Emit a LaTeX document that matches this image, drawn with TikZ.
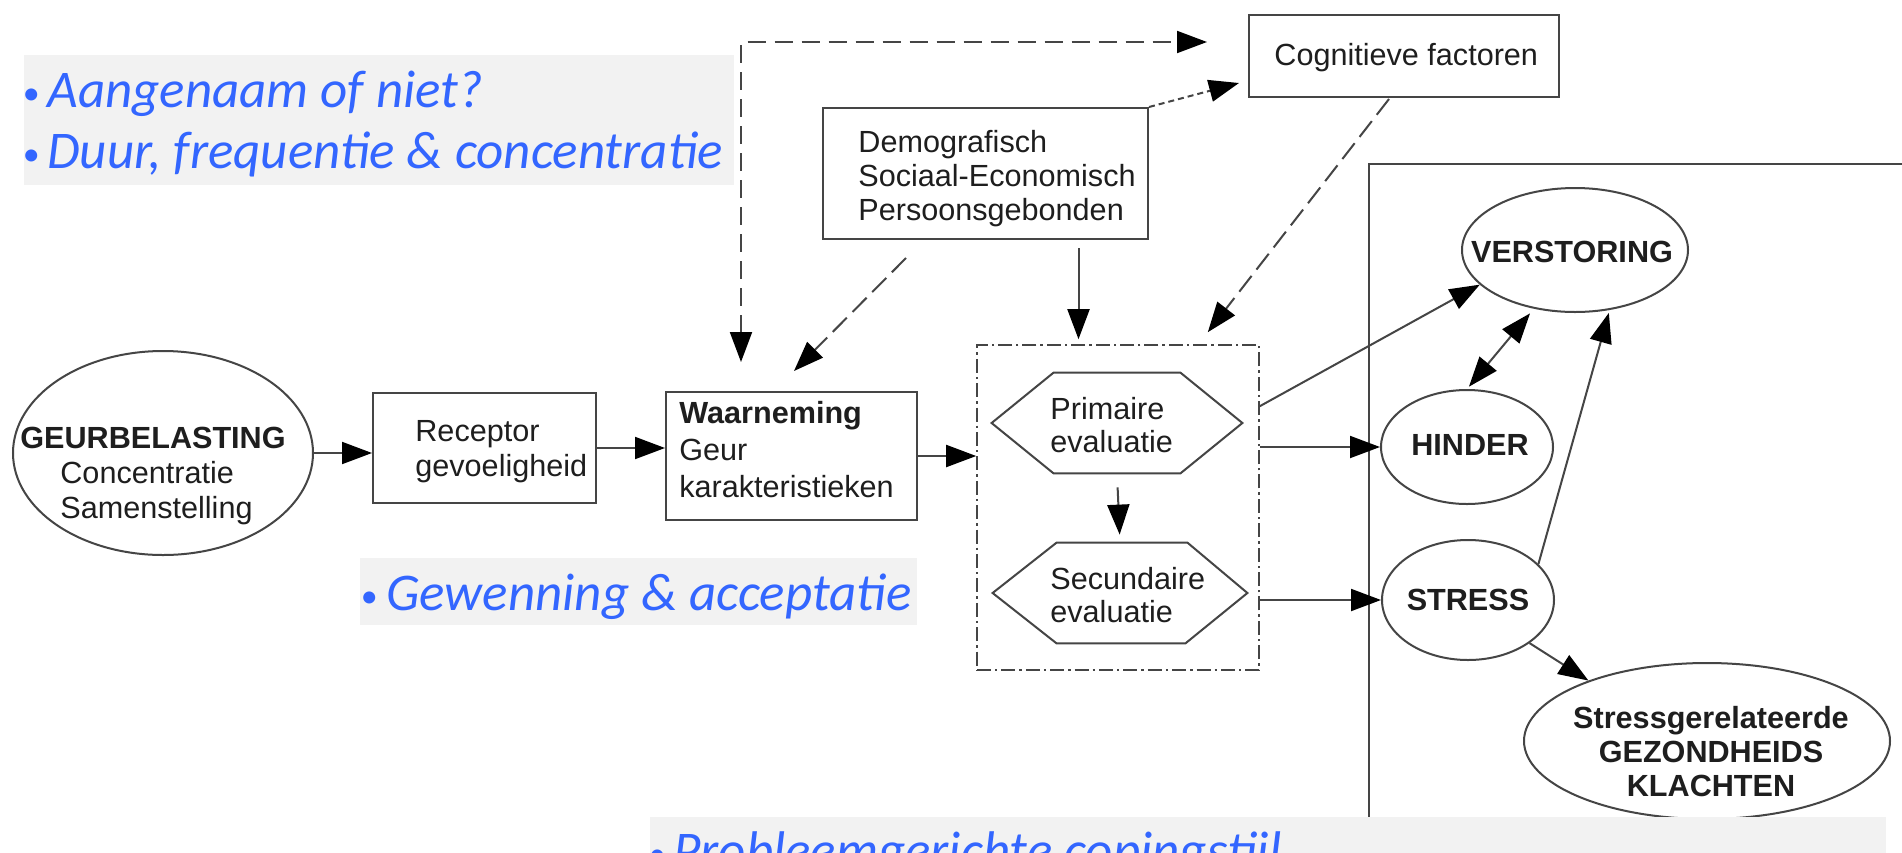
\documentclass[tikz,border=0pt]{standalone}
\usepackage{fontspec}
\setmainfont{Liberation Sans}
\newfontfamily\calib{Carlito}
\usetikzlibrary{arrows.meta,calc,shapes.geometric}
\definecolor{tblue}{HTML}{3366FF}
\definecolor{bargray}{HTML}{F2F2F2}
\definecolor{lin}{HTML}{454545}
\definecolor{txt}{HTML}{1E1E1E}
\newcommand{\blt}[1]{\makebox[0pt][c]{\fontsize{17}{17}\selectfont\upshape\raisebox{1.5pt}{•}}\hspace*{#1}}
\begin{document}
\begin{tikzpicture}[x=0.5pt,y=-0.5pt,
  >={Triangle[length=15pt,width=11pt,color=black]},
  lbl/.style={font=\fontsize{15.3}{17.5}\selectfont, text=txt, inner sep=0pt, align=left},
  clbl/.style={lbl, align=center, font=\fontsize{15.3}{17}\selectfont\bfseries},
  bluetxt/.style={font=\calib\itshape\fontsize{26.5}{30}\selectfont, text=tblue, inner sep=0pt, anchor=base west},
  bar/.style={fill=bargray, draw=none, inner sep=0pt, anchor=north west},
  box/.style={draw=lin, line width=1pt, inner sep=0pt, rectangle},
  dashbox/.style={draw=lin, line width=0.8pt, inner sep=0pt, rectangle, dash pattern=on 7pt off 2pt on 1.2pt off 2pt},
  ell/.style={draw=lin, line width=1pt, inner sep=0pt, ellipse},
  hexbase/.style={draw=none, inner sep=0pt, rectangle},
  con/.style={draw=lin, line width=1pt},
  arr/.style={con, ->},
  dasharr/.style={con, ->, dash pattern=on 10pt off 4pt},
  longdash/.style={con, dash pattern=on 9pt off 4.5pt},
  dotarr/.style={con, ->, dash pattern=on 3pt off 2pt}
]
\useasboundingbox (0,0) rectangle (1902,852);
\clip (0,0) rectangle (1902,852);
\fill[white] (0,0) rectangle (1902,852);

% grey text bars
\node[bar, minimum width=355pt, minimum height=65pt] (bar1) at (24,55) {};
\node[bar, minimum width=278.5pt, minimum height=33.5pt] (bar2) at (360,558) {};
\node[bluetxt] (t1) at (31,107) {\blt{8pt}Aangenaam of niet?};
\node[bluetxt] (t2) at (31,168) {\blt{8pt}Duur, frequentie \& concentratie};
\node[bluetxt] (t3) at (369,610) {\blt{8.5pt}Gewenning \& acceptatie};

% shapes
\node[ell, minimum width=150pt, minimum height=102pt] (geur) at (163,453) {};
\node[box, minimum width=111.5pt, minimum height=55pt] (rec) at (484.5,448) {};
\node[box, minimum width=125.5pt, minimum height=64pt] (waar) at (791.5,456) {};
\node[box, minimum width=162.5pt, minimum height=65.5pt] (demo) at (985.5,173.5) {};
\node[box, minimum width=155pt, minimum height=41pt] (cog) at (1404,56) {};
\node[dashbox, minimum width=141pt, minimum height=162.5pt] (dbx) at (1118,507.5) {};
\node[hexbase, minimum width=125pt, minimum height=50pt] (prim) at (1117,423) {};
\node[hexbase, minimum width=127pt, minimum height=50pt] (sec) at (1120,593) {};
\node[box, anchor=north west, minimum width=400pt, minimum height=400pt] (outer) at (1368,163) {};
\node[ell, minimum width=113pt, minimum height=62pt] (verst) at (1575,250) {};
\node[ell, minimum width=86pt, minimum height=57pt] (hind) at (1467,447) {};
\node[ell, minimum width=86pt, minimum height=60pt] (stress) at (1468,600) {};
\node[ell, minimum width=183pt, minimum height=78pt] (gez) at (1707,741) {};

% hexagons
\draw[con] (prim.west) -- ($(prim.north west)+(62,0)$) -- ($(prim.north east)+(-62,0)$) -- (prim.east) -- ($(prim.south east)+(-62,0)$) -- ($(prim.south west)+(62,0)$) -- cycle;
\draw[con] (sec.west) -- ($(sec.north west)+(64,0)$) -- ($(sec.north east)+(-60,0)$) -- (sec.east) -- ($(sec.south east)+(-62,0)$) -- ($(sec.south west)+(64,0)$) -- cycle;

% labels
\node[lbl, anchor=west] (geurt) at (20,476) {\textbf{GEURBELASTING}\\\hspace*{20pt}Concentratie\\\hspace*{20pt}Samenstelling};
\node[lbl, anchor=west] (rect) at (415,452) {Receptor\\gevoeligheid};
\node[lbl, anchor=west, font=\fontsize{15.3}{18.5}\selectfont] (waart) at (679,450) {\textbf{Waarneming}\\Geur\\karakteristieken};
\node[lbl, anchor=west, font=\fontsize{15.3}{17}\selectfont] (demot) at (858,179) {Demografisch\\Sociaal-Economisch\\Persoonsgebonden};
\node[lbl, anchor=west] (cogt) at (1274,58) {Cognitieve factoren};
\node[lbl, anchor=west, font=\fontsize{15.3}{16.5}\selectfont] (primt) at (1050,425) {Primaire\\evaluatie};
\node[lbl, anchor=west, font=\fontsize{15.3}{16.5}\selectfont] (sect) at (1050,595) {Secundaire\\evaluatie};
\node[clbl] (verstt) at (1572,252) {VERSTORING};
\node[clbl] (hindt) at (1470,445) {HINDER};
\node[clbl] (stresst) at (1468,600) {STRESS};
\node[clbl] (gezt) at (1711,752) {Stressgerelateerde\\GEZONDHEIDS\\KLACHTEN};

% connectors
\draw[arr] (geur.east) -- (geur.east -| rec.west);
\draw[arr] (rec.east) -- (rec.east -| waar.west);
\draw[arr] (waar.east) -- (waar.east -| dbx.west);
\draw[arr] (dbx.east |- hind.west) -- (hind.west);
\draw[arr] (dbx.east |- stress.west) -- (stress.west);
\draw[arr] ($(dbx.north east)+(0,62)$) -- (verst.200);
\draw[con, <->, shorten <=1.5pt, shorten >=3pt] (hind.north) -- (verst.235);
\draw[arr, shorten >=1.5pt] (stress.27) -- (verst.300);
\draw[arr] (stress.-35) -- (gez.153);
\draw[arr, shorten <=7pt, shorten >=4pt] (prim.south) -- (sec.north);
\coordinate (dsb) at ([xshift=46.5pt]demo.south);
\draw[arr, shorten <=4pt, shorten >=2.5pt] (dsb) -- (dsb |- dbx.north);
\draw[dasharr] ($(demo.south west)+(84,18)$) -- ($(waar.north)+(2.5,-20)$);
\draw[dotarr] (demo.north east) -- ($(cog.south west)+(-9,-15)$);
\draw[dasharr] ($(cog.south)+(-15,1)$) -- ($(dbx.north east)+(-52,-12)$);
\draw[longdash, <->] ($(waar.north west)+(76,-29)$) |- ($(cog.west)+(-41,-14)$);

% bottom bar
\node[bar, minimum width=618pt, minimum height=40pt] (bar3) at (650,817) {};
\node[bluetxt] (t4) at (657,868) {\blt{8pt}Probleemgerichte copingstijl};
\end{tikzpicture}
\end{document}
